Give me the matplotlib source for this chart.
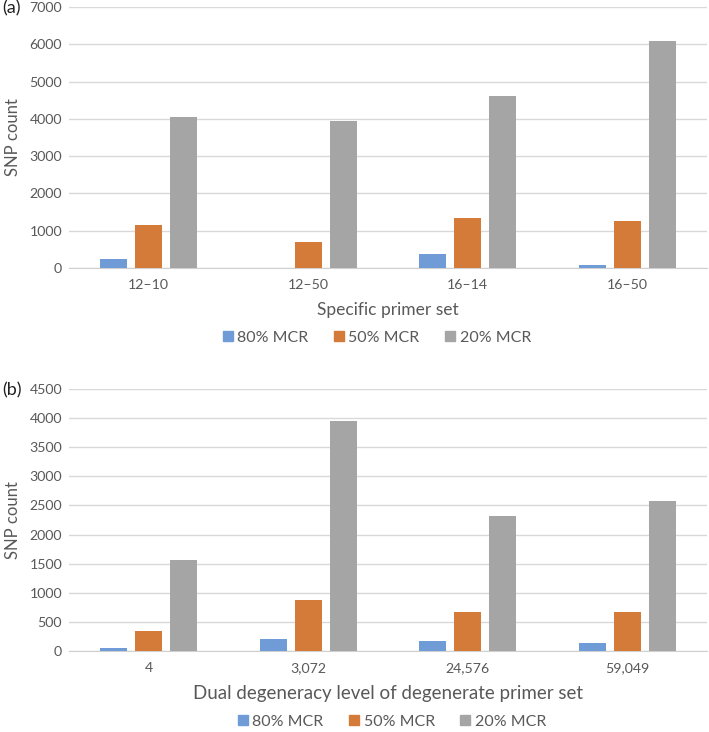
import numpy as np
import matplotlib.pyplot as plt
from matplotlib.patches import Patch

plt.switch_backend('agg')
plt.rcParams['font.family'] = ['Lato', 'DejaVu Sans']

# data
series = ['80% MCR', '50% MCR', '20% MCR']
colors = ['#6f9bd6', '#d57b3a', '#a5a5a5']

cats_a = ['12\u201310', '12\u201350', '16\u201314', '16\u201350']
mcr80_a = [230, 0, 385, 70]
mcr50_a = [1150, 690, 1350, 1250]
mcr20_a = [4060, 3950, 4610, 6090]

cats_b = ['4', '3,072', '24,576', '59,049']
mcr80_b = [52, 212, 178, 144]
mcr50_b = [345, 873, 672, 672]
mcr20_b = [1556, 3955, 2313, 2572]

txt = '#595959'
W, H = 709, 732


def panel(ax, cats, vals, ymax, ystep, xlabel, xlsize):
    x = np.arange(len(cats))
    w = 0.17
    for i, (v, c) in enumerate(zip(vals, colors)):
        ax.bar(x + (i - 1) * 0.22, v, w, color=c, zorder=3)
    ax.set_xlim(-0.5, len(cats) - 0.5)
    ax.set_ylim(0, ymax)
    ax.set_yticks(np.arange(0, ymax + 1, ystep))
    ax.set_xticks(x)
    ax.set_xticklabels(cats)
    ax.grid(axis='y', color='#d9d9d9', lw=1, zorder=0)
    for s in ['top', 'right', 'left']:
        ax.spines[s].set_visible(False)
    ax.spines['bottom'].set_color('#d0d0d0')
    ax.tick_params(length=0, labelsize=10.2, colors=txt)
    ax.tick_params(axis='x', pad=8)
    ax.tick_params(axis='y', pad=5)
    ax.set_ylabel('SNP count', fontsize=12, color=txt)
    ax.yaxis.set_label_coords((21 - 69) / 638, 0.5)
    ax.set_xlabel(xlabel, fontsize=xlsize, color=txt, labelpad=8)


fig = plt.figure(figsize=(W / 100, H / 100), dpi=100)
ax1 = fig.add_axes([69 / W, 1 - 268 / H, 638 / W, 261 / H])
ax2 = fig.add_axes([69 / W, 1 - 651 / H, 638 / W, 262 / H])

panel(ax1, cats_a, [mcr80_a, mcr50_a, mcr20_a], 7000, 1000,
      'Specific primer set', 12.5)
panel(ax2, cats_b, [mcr80_b, mcr50_b, mcr20_b], 4500, 500,
      'Dual degeneracy level of degenerate primer set', 13.5)

fig.text(2 / W, 1 - 8 / H, '(a)', fontsize=13, color='#222222',
         ha='left', va='center')
fig.text(2 / W, 1 - 390 / H, '(b)', fontsize=13, color='#222222',
         ha='left', va='center')

handles = [Patch(color=c, label=s) for c, s in zip(colors, series)]
for cx, cy in [(377, 338), (392, 722)]:
    fig.legend(handles=handles, loc='center', bbox_to_anchor=(cx / W, 1 - cy / H),
               ncol=3, frameon=False, fontsize=11.5, labelcolor=txt,
               handlelength=0.6, handleheight=0.6, handletextpad=0.3,
               columnspacing=1.6, borderpad=0.1)

fig.savefig('out.png')
